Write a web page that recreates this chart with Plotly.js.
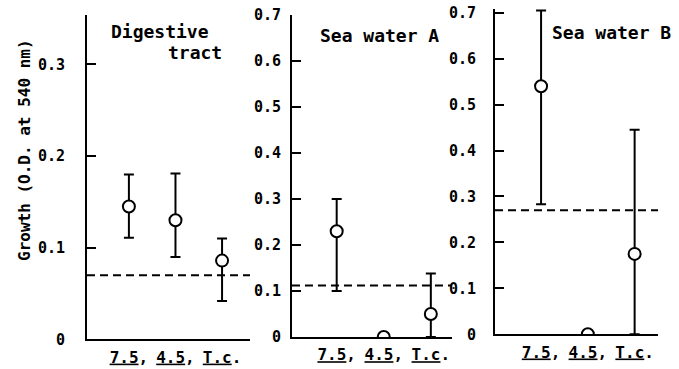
<!DOCTYPE html>
<html>
<head>
<meta charset="utf-8">
<script src="https://cdn.plot.ly/plotly-3.0.1.min.js"></script>
<style>html,body{margin:0;padding:0;background:#fff;}</style>
</head>
<body>
<div id="chart" style="width:679px;height:369px;"></div>
<script>
// ---- data ----
var categories = ["7.5", "4.5", "T.c"];
var tickLabels = ["<u>7.5</u>,", "<u>4.5</u>,", "<u>T.c</u>."];
var panelTitles = ["Digestive", "Sea water A", "Sea water B"];
var yTitle = "Growth (O.D. at 540 nm)";

var digestiveMean  = [0.145, 0.130, 0.086];
var digestiveUpper = [0.180, 0.181, 0.110];
var digestiveLower = [0.111, 0.090, 0.042];

var seaAMean  = [0.230, 0.000, 0.050];
var seaAUpper = [0.300, 0.000, 0.138];
var seaALower = [0.100, 0.000, 0.000];

var seaBMean  = [0.540, 0.000, 0.175];
var seaBUpper = [0.705, 0.000, 0.445];
var seaBLower = [0.283, 0.000, 0.000];

var controlLevels = [0.070, 0.112, 0.270];

// ---- build ----
var FONT = "DejaVu Sans Mono";
var W = "bold";
var xpos = categories.map(function (c, i) { return i; });

function trace(mean, upper, lower, k) {
  var s = k === 1 ? "" : String(k);
  return {
    type: "scatter", mode: "markers",
    x: xpos, y: mean,
    xaxis: "x" + s, yaxis: "y" + s,
    cliponaxis: true,
    marker: {symbol: "circle", size: 12, color: "#fff", line: {color: "#000", width: 2}},
    error_y: {
      type: "data", symmetric: false,
      array: upper.map(function (u, i) { return u - mean[i]; }),
      arrayminus: mean.map(function (m, i) { return m - lower[i]; }),
      color: "#000", thickness: 2, width: 5
    },
    hoverinfo: "skip", showlegend: false
  };
}

var data = [
  trace(digestiveMean, digestiveUpper, digestiveLower, 1),
  trace(seaAMean, seaAUpper, seaALower, 2),
  trace(seaBMean, seaBUpper, seaBLower, 3)
];

function xax(domain, range) {
  return {
    domain: domain, range: range, fixedrange: true,
    showline: true, linewidth: 2, linecolor: "#000", mirror: false,
    showgrid: false, zeroline: false, ticks: "",
    tickmode: "array", tickvals: xpos, ticktext: tickLabels,
    tickfont: {family: FONT, size: 16, color: "#000", weight: W},
    ticklabelstandoff: 2
  };
}
function yax(domain, range, standoff, xanchor) {
  return {
    domain: domain, range: range, fixedrange: true, anchor: xanchor,
    showline: true, linewidth: 2, linecolor: "#000",
    showgrid: false, zeroline: false,
    ticks: "inside", ticklen: 9, tickwidth: 2, tickcolor: "#000",
    tick0: 0, dtick: 0.1,
    tickfont: {family: FONT, size: 15, color: "#000", weight: W},
    ticklabelstandoff: standoff
  };
}

var layout = {
  width: 679, height: 369,
  margin: {l: 0, r: 0, t: 0, b: 0},
  paper_bgcolor: "#fff", plot_bgcolor: "rgba(0,0,0,0)",
  font: {family: FONT, color: "#000"},
  showlegend: false,
  xaxis:  Object.assign(xax([0.1281, 0.3682], [-0.9, 2.6]), {anchor: "y"}),
  yaxis:  yax([0.0802, 0.9593], [0, 0.354], 17, "x"),
  xaxis2: Object.assign(xax([0.4300, 0.6657], [-0.95, 2.45]), {anchor: "y2"}),
  yaxis2: yax([0.0867, 0.9593], [0, 0.7], 6, "x2"),
  xaxis3: Object.assign(xax([0.7290, 0.9691], [-0.985, 2.5]), {anchor: "y3"}),
  yaxis3: yax([0.0940, 0.9756], [0, 0.708], 14, "x3"),
  shapes: controlLevels.map(function (v, i) {
    var s = i === 0 ? "" : String(i + 1);
    return {
      type: "line", xref: "x" + s + " domain", yref: "y" + s,
      x0: 0, x1: 1, y0: v, y1: v,
      line: {color: "#000", width: 2, dash: "8px,5px"}
    };
  }),
  annotations: [
    {text: panelTitles[0], xref: "paper", yref: "paper", x: 0.1605, y: 0.9133,
     xanchor: "left", yanchor: "middle", showarrow: false,
     font: {family: FONT, size: 18, color: "#000", weight: W}},
    {text: "tract", xref: "paper", yref: "paper", x: 0.3299, y: 0.8564,
     xanchor: "right", yanchor: "middle", showarrow: false,
     font: {family: FONT, size: 18, color: "#000", weight: W}},
    {text: panelTitles[1], xref: "paper", yref: "paper", x: 0.4683, y: 0.9051,
     xanchor: "left", yanchor: "middle", showarrow: false,
     font: {family: FONT, size: 18, color: "#000", weight: W}},
    {text: panelTitles[2], xref: "paper", yref: "paper", x: 0.8100, y: 0.9106,
     xanchor: "left", yanchor: "middle", showarrow: false,
     font: {family: FONT, size: 18, color: "#000", weight: W}},
    {text: yTitle, xref: "paper", yref: "paper", x: 0.0368, y: 0.5935,
     xanchor: "center", yanchor: "middle", textangle: -90, showarrow: false,
     font: {family: FONT, size: 16, color: "#000", weight: W}}
  ]
};

Plotly.newPlot("chart", data, layout, {staticPlot: true, displayModeBar: false});
</script>
</body>
</html>
